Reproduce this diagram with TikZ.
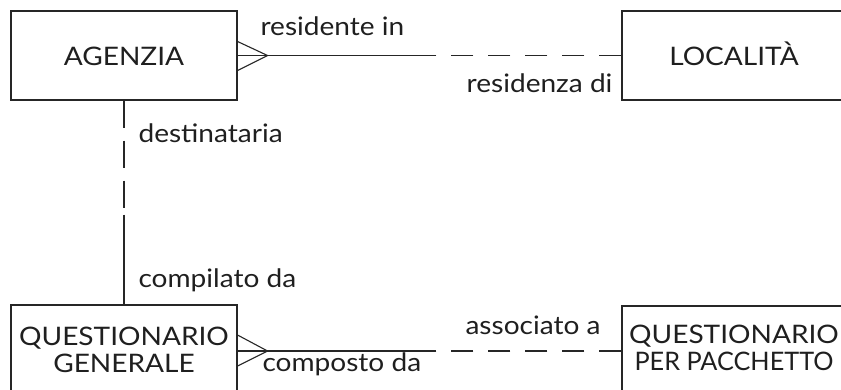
\documentclass[tikz,border=0pt]{standalone}
\usepackage{fontspec}
\setmainfont[FakeStretch=1.1]{Lato}
\usetikzlibrary{calc}
\begin{document}
\begin{tikzpicture}[x=1pt,y=-1pt,line width=1.1pt,
  ent/.style={draw=black!85,rectangle,inner sep=0pt},
  txt/.style={text=black!88,inner sep=0pt,font=\fontsize{25.5}{26.5}\selectfont},
  rel/.style={draw=black!85},
  half/.style={draw=black!85,dash pattern=on 22pt off 15pt},
  vhalf/.style={draw=black!85,dash pattern=on 27pt off 13pt}]
\useasboundingbox (0,0) rectangle (841,389);
\clip (0,0) rectangle (841,389);
% entities
\node[ent,minimum width=226pt,minimum height=89pt] (ag) at (124,55.5) {};
\node[ent,minimum width=228pt,minimum height=89pt] (lo) at (736,55.5) {};
\node[ent,minimum width=226pt,minimum height=100pt] (qg) at (124,355) {};
\node[ent,minimum width=226pt,minimum height=100pt] (qp) at (735,356) {};
% entity texts
\node[txt,anchor=base] (agt) at (124,65) {AGENZIA};
\node[txt,anchor=base] (lot) at (734,65) {LOCALITÀ};
\node[txt,anchor=base,align=center] (qgt) at (124,372) {QUESTIONARIO\\GENERALE};
\node[txt,anchor=base,align=center] (qpt) at (734,370) {QUESTIONARIO\\\scalebox{0.9}[1]{PER PACCHETTO}};
% AGENZIA -- LOCALITA
\coordinate (t1) at ($(ag.east)+(30,0)$);
\coordinate (m1) at ($(ag.east)!0.5!(lo.west)$);
\draw[rel] ([yshift=14pt]ag.east) -- (t1) -- ([yshift=-15pt]ag.east);
\draw[rel] (ag.east) -- (t1) -- (m1);
\draw[half] (lo.west) -- (m1);
% AGENZIA -- QUESTIONARIO GENERALE
\coordinate (m2) at ($(ag.south)!0.56!(qg.north)$);
\draw[vhalf] (ag.south) -- (m2);
\draw[rel] (m2) -- (qg.north);
% QUESTIONARIO GENERALE -- QUESTIONARIO PER PACCHETTO
\coordinate (q0) at ([yshift=4pt]qg.east);
\coordinate (t2) at ($(q0)+(30,0)$);
\coordinate (q3) at (qp.west |- q0);
\coordinate (m3) at ($(q0)!0.5!(q3)$);
\draw[rel] ([yshift=16pt]q0) -- (t2) -- ([yshift=-15pt]q0);
\draw[rel] (q0) -- (t2) -- (m3);
\draw[half] (q3) -- (m3);
% role labels
\node[txt,anchor=base west] (l1) at (260,35) {residente in};
\node[txt,anchor=base east] (l2) at (613,92) {residenza di};
\node[txt,anchor=base west] (l3) at (138,142) {destinataria};
\node[txt,anchor=base west] (l4) at (138,287) {compilato da};
\node[txt,anchor=base west] (l5) at (465,334) {associato a};
\node[txt,anchor=base west] (l6) at (262,371) {composto da};
\end{tikzpicture}
\end{document}
